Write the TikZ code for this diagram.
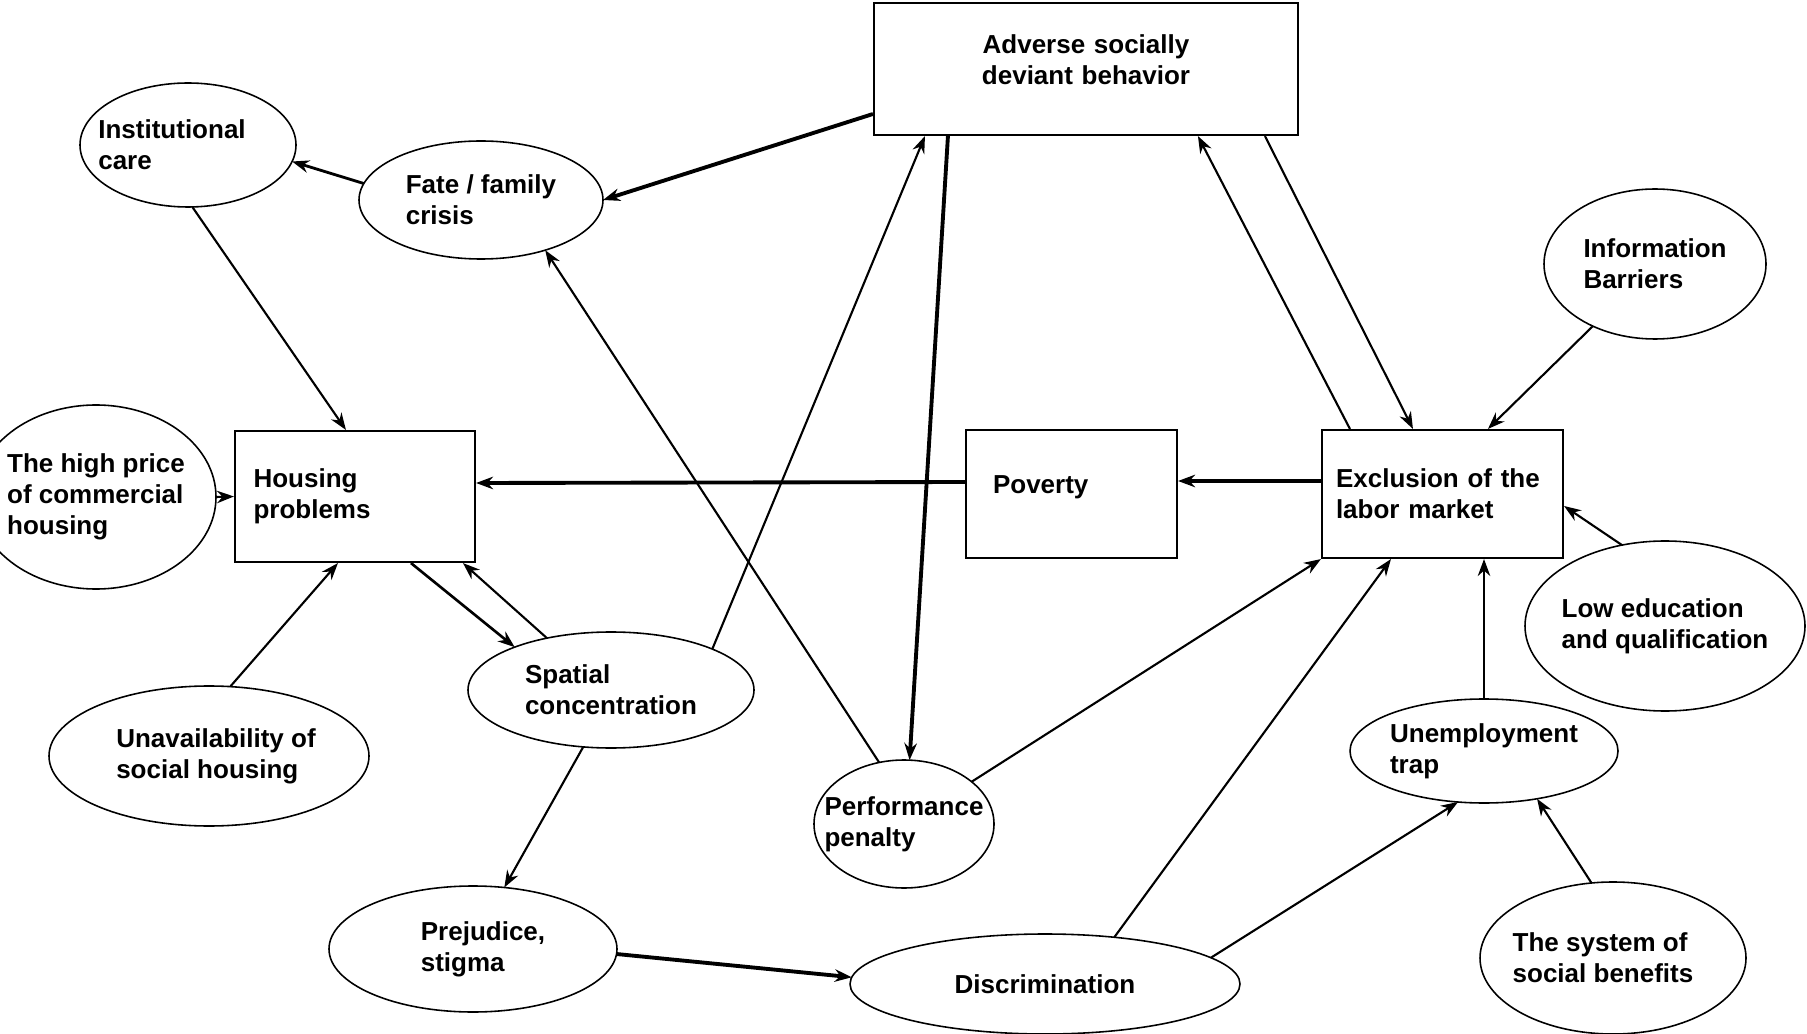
\documentclass[tikz,border=0pt]{standalone}
\usepackage{fontspec}
\setmainfont{Liberation Sans}
\usetikzlibrary{shapes.geometric, arrows.meta}

\begin{document}
\begin{tikzpicture}[
    font=\bfseries\fontsize{7.4}{8.8}\selectfont,
    box/.style={rectangle, draw, line width=0.6pt, align=left},
    oval/.style={ellipse, draw, line width=0.45pt, inner sep=0pt, outer sep=0pt},
    every label/.style={align=left, inner sep=0pt},
    arr/.style={-{Stealth[length=1.7mm, width=1.25mm]}, line width=0.6pt},
    heavy/.style={arr, line width=1.1pt},
]
    \useasboundingbox (0,0) rectangle (18.07,-10.34);
    % Boxes
    \node[box, align=center, text width=3.9cm, inner xsep=0.17cm, minimum height=1.32cm, text depth=0.5cm] (adv) at (10.86,-0.69) {Adverse socially\\deviant behavior};
    \node[box, text width=2.03cm, inner xsep=0.185cm, minimum height=1.31cm] (housing) at (3.55,-4.965) {Housing\\problems};
    \node[box, text width=1.57cm, inner xsep=0.27cm, minimum height=1.28cm, text depth=0.19cm] (poverty) at (10.715,-4.94) {Poverty};
    \node[box, text width=2.13cm, inner xsep=0.14cm, minimum height=1.28cm] (excl) at (14.425,-4.94) {Exclusion of the\\labor market};
    % Ellipses, left part
    \node[oval, minimum width=2.16cm, minimum height=1.24cm, label={[xshift=-0.16cm]center:{Institutional\\care}}] (inst) at (1.88,-1.45) {};
    \node[oval, minimum width=2.44cm, minimum height=1.18cm, label={center:{Fate / family\\crisis}}] (fate) at (4.81,-2.00) {};
    \node[oval, minimum width=2.40cm, minimum height=1.84cm, label={center:{The high price\\of commercial\\housing}}] (price) at (0.96,-4.97) {};
    \node[oval, minimum width=3.20cm, minimum height=1.40cm, label={[xshift=0.07cm]center:{Unavailability of\\social housing}}] (unavail) at (2.09,-7.56) {};
    \node[oval, minimum width=2.86cm, minimum height=1.16cm, label={center:{Spatial\\concentration}}] (spatial) at (6.11,-6.90) {};
    \node[oval, minimum width=2.88cm, minimum height=1.26cm, label={[xshift=0.1cm]center:{Prejudice,\\stigma}}] (prej) at (4.73,-9.49) {};
    % Ellipses, right part
    \node[oval, minimum width=1.80cm, minimum height=1.28cm, label={center:{Performance\\penalty}}] (perf) at (9.04,-8.24) {};
    \node[oval, minimum width=3.90cm, minimum height=1.00cm, label={center:{Discrimination}}] (discr) at (10.45,-9.84) {};
    \node[oval, minimum width=2.68cm, minimum height=1.04cm, label={center:{Unemployment\\trap}}] (trap) at (14.84,-7.51) {};
    \node[oval, minimum width=2.66cm, minimum height=1.52cm, label={[xshift=-0.1cm]center:{The system of\\social benefits}}] (benefit) at (16.13,-9.58) {};
    \node[oval, minimum width=2.80cm, minimum height=1.70cm, label={center:{Low education\\and qualification}}] (lowedu) at (16.65,-6.26) {};
    \node[oval, minimum width=2.22cm, minimum height=1.50cm, label={center:{Information\\Barriers}}] (info) at (16.55,-2.64) {};
    % Connectors around housing
    \draw[heavy] ([yshift=-0.45cm]adv.west) -- (fate.east);
    \draw[arr, line width=0.8pt] (fate.172) -- (inst.351);
    \draw[arr] (inst.274) -- ([xshift=1.12cm]housing.north west);
    \draw[arr] (price.east) -- (housing.west);
    \draw[arr] (unavail.73) -- ([xshift=1.04cm]housing.south west);
    \draw[arr, line width=0.75pt] ([xshift=1.77cm]housing.south west) -- (spatial.156);
    \draw[arr] (spatial.141) -- ([xshift=2.29cm]housing.south west);
    \draw[heavy] ([yshift=0.12cm]poverty.west) -- ([yshift=0.135cm]housing.east);
    \draw[heavy] ([yshift=0.13cm]excl.west) -- ([yshift=0.13cm]poverty.east);
    % Connectors through the middle
    \draw[arr] (spatial.22) -- ([xshift=0.52cm]adv.south west);
    \draw[heavy] ([xshift=0.75cm]adv.south west) -- (perf.85);
    \draw[arr] (perf.112) -- (fate.322);
    \draw[arr] ([xshift=0.29cm]excl.north west) -- ([xshift=3.25cm]adv.south west);
    \draw[arr] ([xshift=3.92cm]adv.south west) -- ([xshift=0.92cm]excl.north west);
    \draw[arr] (spatial.244) -- (prej.63);
    \draw[heavy] (prej.358) -- (discr.178);
    % Connectors into the labor market
    \draw[arr] (info.225) -- ([xshift=1.67cm]excl.north west);
    \draw[arr] (lowedu.118) -- ([yshift=-0.12cm]excl.east);
    \draw[arr] (trap.north) -- (trap.north |- excl.south);
    \draw[arr] (perf.32) -- (excl.south west);
    \draw[arr] (discr.34) -- ([xshift=0.70cm]excl.south west);
    \draw[arr] (discr.9) -- (trap.243);
    \draw[arr] (benefit.106) -- (trap.318);
\end{tikzpicture}
\end{document}
